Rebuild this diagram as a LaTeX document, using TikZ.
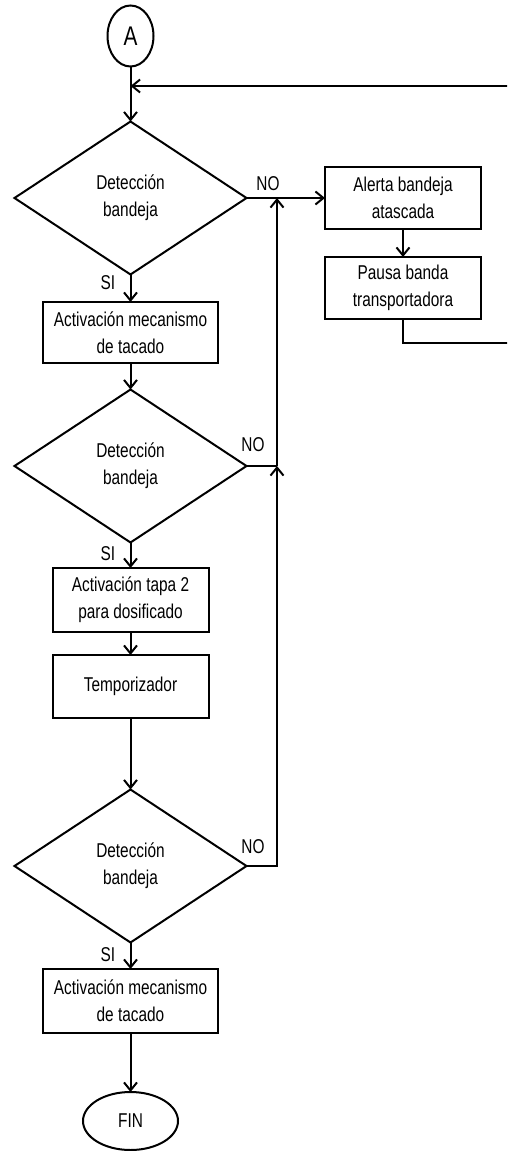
\documentclass[tikz,border=0pt]{standalone}
\usepackage{fontspec}
\setmainfont[FakeStretch=0.77]{Liberation Sans}
\usetikzlibrary{shapes.geometric,arrows.meta}
\begin{document}
\begin{tikzpicture}[x=1pt,y=-1pt,line width=2pt,
  arr/.style={-{Straight Barb[length=8pt,width=13pt,line width=2pt]}},
  txt/.style={font=\fontsize{20}{27}\selectfont,align=center},
  boxn/.style={txt,draw,rectangle,inner sep=0pt,outer sep=0pt},
  dec/.style={txt,draw,diamond,inner sep=0pt,outer sep=0pt,minimum width=232pt,minimum height=153pt},
  term/.style={txt,draw,ellipse,inner sep=0pt,outer sep=0pt},
  lab/.style={font=\fontsize{20}{24}\selectfont,inner sep=0pt}]
\useasboundingbox (0,0) rectangle (507,1151);
\fill[white] (0,0) rectangle (507,1151);
\clip (0,0) rectangle (507,1151);

\node[term,minimum width=46pt,minimum height=61pt,font=\fontsize{27}{30}\selectfont] (A) at (130.5,36) {A};
\node[dec] (d1) at (130.5,198) {Detección\\bandeja};
\node[boxn,minimum width=156pt,minimum height=62pt] (alert) at (403,198) {Alerta bandeja\\atascada};
\node[boxn,minimum width=156pt,minimum height=62pt] (pausa) at (403,288) {Pausa banda\\transportadora};
\node[boxn,minimum width=175pt,minimum height=61pt] (b1) at (130.5,332.5) {Activación mecanismo\\de tacado};
\node[dec] (d2) at (130.5,466) {Detección\\bandeja};
\node[boxn,minimum width=156pt,minimum height=64pt] (b2) at (130.5,600) {Activación tapa 2\\para dosificado};
\node[boxn,minimum width=156pt,minimum height=63pt] (b3) at (130.5,686.5) {Temporizador};
\node[dec] (d3) at (130.5,866) {Detección\\bandeja};
\node[boxn,minimum width=175pt,minimum height=64pt] (b4) at (130.5,1001) {Activación mecanismo\\de tacado};
\node[term,minimum width=95pt,minimum height=58pt] (fin) at (130.5,1121) {FIN};

\node[lab] (no1) at (268,184) {NO};
\node[lab] (no2) at (253,445) {NO};
\node[lab] (no3) at (253,847) {NO};
\node[lab] (si1) at (108,283) {SI};
\node[lab] (si2) at (108,554) {SI};
\node[lab] (si3) at (108,955) {SI};

\coordinate (jA) at (130.5,86);
\coordinate (j1) at (277,198);
\coordinate (j2) at (277,466);
\coordinate (p1) at (403,343);
\coordinate (p2) at (530,343);
\coordinate (p3) at (530,86);

\draw[arr] (A.south) -- (d1.north);
\draw[arr] (d1.east) -- (alert.west);
\draw[arr] (alert.south) -- (pausa.north);
\draw[arr] (pausa.south) -- (p1) -- (p2) -- (p3) -- (jA);
\draw[arr] (d1.south) -- (b1.north);
\draw[arr] (b1.south) -- (d2.north);
\draw (d2.east) -- (j2);
\draw[arr] (d2.south) -- (b2.north);
\draw[arr] (b2.south) -- (b3.north);
\draw[arr] (b3.south) -- (d3.north);
\draw[arr] (d3.east) -| (j2);
\draw[arr] (j2) -- (j1);
\draw[arr] (d3.south) -- (b4.north);
\draw[arr] (b4.south) -- (fin.north);
\end{tikzpicture}
\end{document}
